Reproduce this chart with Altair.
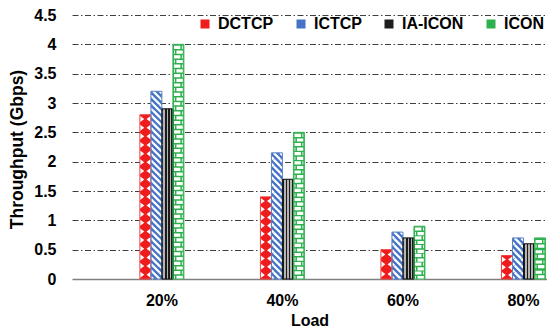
import altair as alt
import pandas as pd

# ---- data ----
loads = ["20%", "40%", "60%", "80%"]
series = ["DCTCP", "ICTCP", "IA-ICON", "ICON"]
dctcp = [2.8, 1.4, 0.5, 0.4]
ictcp = [3.2, 2.15, 0.8, 0.7]
iaicon = [2.9, 1.7, 0.7, 0.6]
icon = [4.0, 2.5, 0.9, 0.7]
y_ticks = [0, 0.5, 1, 1.5, 2, 2.5, 3, 3.5, 4, 4.5]

fill_colors = ["#ee1c1c", "#4472c4", "#1e1e1e", "#2eb04e"]
stroke_colors = ["#f04040", "#5a82c8", "#111111", "#3cb45a"]

FONT = "Liberation Sans"
W, H = 475, 264
PXU = H / 4.5  # pixels per data unit (for pattern tiling)

rows = []
for name, vals in zip(series, [dctcp, ictcp, iaicon, icon]):
    for ld, v in zip(loads, vals):
        rows.append({"load": ld, "series": name, "value": v})
df = pd.DataFrame(rows)


def tiles(name, vals, period_px):
    out = []
    for ld, v in zip(loads, vals):
        n = max(1, round(v * PXU / period_px))
        p = v / n
        for k in range(n):
            out.append({"load": ld, "series": name, "value": (k + 0.5) * p})
    return pd.DataFrame(out)


x_scale = alt.Scale(domain=loads, paddingInner=0.635, paddingOuter=0.288,
                    align=0.978, round=False)
off_scale = alt.Scale(domain=series)
y_scale = alt.Scale(domain=[0, 4.5], nice=False, zero=True)

x_axis = alt.Axis(title="Load", labelAngle=0, labelFont=FONT, labelFontSize=16,
                  labelFontWeight="bold", labelColor="black", labelPadding=13,
                  ticks=False, domainColor="#808080", domainWidth=1.5,
                  titleFont=FONT, titleFontSize=16, titleFontWeight="bold",
                  titleColor="black", titleY=33, titleBaseline="top")
y_axis = alt.Axis(title="Throughput (Gbps)", values=y_ticks, format="~g",
                  labelFont=FONT, labelFontSize=16, labelFontWeight="bold",
                  labelColor="black", labelPadding=16, ticks=False, domain=False,
                  grid=True, gridColor="#404040", gridWidth=1,
                  gridDash=[6, 2.5, 1.5, 2.5],
                  gridOpacity=alt.condition("datum.value == 0", alt.value(0), alt.value(1)),
                  titleFont=FONT, titleFontSize=17.5, titleFontWeight="bold",
                  titleColor="black", titleX=-46, titleY=134)


def enc(chart):
    return chart.encode(
        x=alt.X("load:N", scale=x_scale, axis=x_axis, sort=loads),
        xOffset=alt.XOffset("series:N", scale=off_scale, sort=series),
        y=alt.Y("value:Q", scale=y_scale, axis=y_axis),
    )


base = enc(alt.Chart(df).mark_bar(strokeWidth=0)).encode(
    fill=alt.Fill("series:N", scale=alt.Scale(domain=series, range=fill_colors),
                  sort=series,
                  legend=alt.Legend(title=None, orient="none", legendX=125, legendY=1,
                                    direction="horizontal", columns=4,
                                    symbolType="square", symbolSize=81,
                                    symbolStrokeWidth=0,
                                    labelFont=FONT, labelFontSize=16,
                                    labelFontWeight="bold", labelColor="black",
                                    labelOffset=5, columnPadding=19, padding=0))
)

stripe_grad = {
    "gradient": "linear", "x1": 0, "x2": 1, "y1": 0, "y2": 0,
    "stops": [
        {"offset": 0, "color": "#1a1a1a"}, {"offset": 0.14, "color": "#1a1a1a"},
        {"offset": 0.14, "color": "#b4b4b4"}, {"offset": 0.3, "color": "#b4b4b4"},
        {"offset": 0.3, "color": "#1a1a1a"}, {"offset": 0.43, "color": "#1a1a1a"},
        {"offset": 0.43, "color": "#b4b4b4"}, {"offset": 0.57, "color": "#b4b4b4"},
        {"offset": 0.57, "color": "#1a1a1a"}, {"offset": 0.7, "color": "#1a1a1a"},
        {"offset": 0.7, "color": "#b4b4b4"}, {"offset": 0.86, "color": "#b4b4b4"},
        {"offset": 0.86, "color": "#1a1a1a"}, {"offset": 1, "color": "#1a1a1a"},
    ],
}
ia_layer = enc(alt.Chart(df).transform_filter(alt.datum.series == "IA-ICON")
               .mark_bar(fill=stripe_grad, strokeWidth=0))

dc_path = "M-1,-0.6L-0.2,0L-1,0.6ZM1,-0.6L0.2,0L1,0.6Z"
ic_path = "M-0.591,-0.591L0.591,0.591M-1,0.182L-0.591,0.591M0.591,-0.591L1,-0.182"
icon_path = ("M-0.8,-0.58H0.36V0H-0.8Z M0.64,-0.58H0.8V0H0.64Z "
             "M-0.8,0.27H-0.64V0.855H-0.8Z M-0.36,0.27H0.8V0.855H-0.36Z")

dc_layer = enc(alt.Chart(tiles("DCTCP", dctcp, 8.5)).mark_point(
    shape=dc_path, filled=True, fill="white", strokeWidth=0, size=121, opacity=1))
ic_layer = enc(alt.Chart(tiles("ICTCP", ictcp, 6.5)).mark_point(
    shape=ic_path, filled=False, stroke="white", strokeWidth=2.3, size=121, opacity=1))
icon_layer = enc(alt.Chart(tiles("ICON", icon, 9.4)).mark_point(
    shape=icon_path, filled=True, fill="white", strokeWidth=0, size=121, opacity=1))

outline = enc(alt.Chart(df).mark_bar(fillOpacity=0, strokeWidth=1)).encode(
    stroke=alt.Stroke("series:N", scale=alt.Scale(domain=series, range=stroke_colors),
                      legend=None)
)

chart = alt.layer(base, ia_layer, dc_layer, ic_layer, icon_layer, outline).properties(
    width=W, height=H, autosize="none",
    padding={"left": 64, "top": 7, "right": 0, "bottom": 48},
    background="white",
).configure_view(stroke=None)

chart.save("out.html", embed_options={"renderer": "svg", "actions": False})
